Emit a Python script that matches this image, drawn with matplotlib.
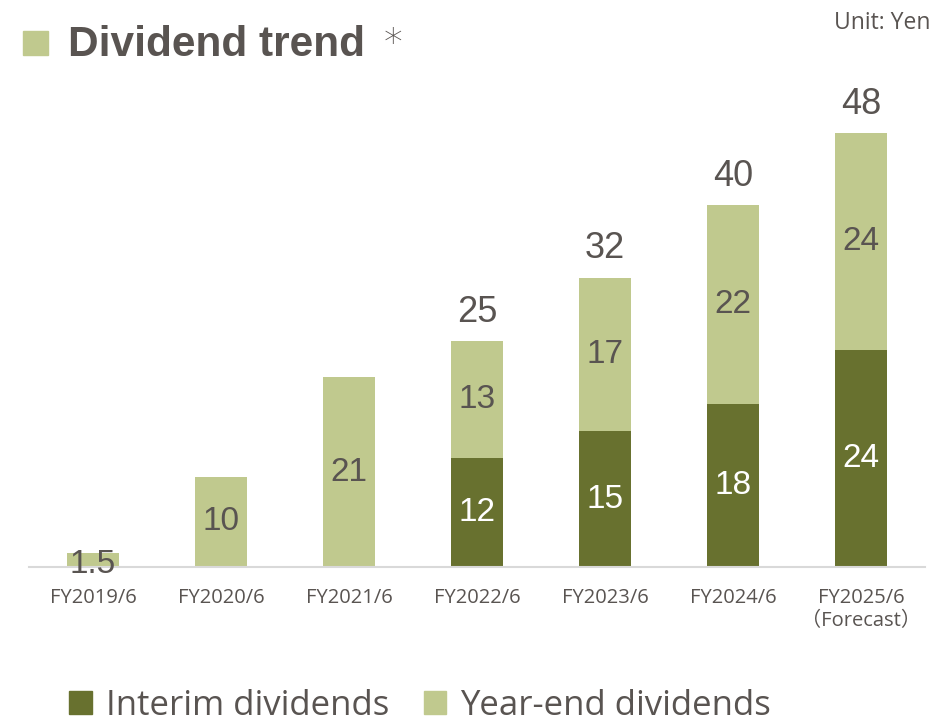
import matplotlib.pyplot as plt
from matplotlib.patches import Patch

categories = ['FY2019/6', 'FY2020/6', 'FY2021/6', 'FY2022/6',
              'FY2023/6', 'FY2024/6', 'FY2025/6\n（Forecast）']
interim = [0, 0, 0, 12, 15, 18, 24]
year_end = [1.5, 10, 21, 13, 17, 22, 24]
totals = [1.5, 10, 21, 25, 32, 40, 48]

DARK = '#68712f'
LIGHT = '#c0c98e'
TEXT = '#595451'


def fmt(v):
    return f'{v:g}'


def main():
    fig = plt.figure(figsize=(9.45, 7.23), dpi=100)
    ax = fig.add_axes([0.0307, 0.2158, 0.948, 0.688])

    x = list(range(len(categories)))
    ax.bar(x, interim, width=0.406, color=DARK)
    ax.bar(x, year_end, width=0.406, bottom=interim, color=LIGHT)

    for i in x:
        if interim[i] > 0:
            ax.text(i, interim[i] / 2, fmt(interim[i]), ha='center', va='center',
                    color='white', fontsize=24, family='Liberation Sans')
            ax.annotate(fmt(totals[i]), (i, totals[i]), xytext=(0, 8),
                        textcoords='offset points', ha='center', va='bottom',
                        color=TEXT, fontsize=26, family='Liberation Sans')
        ax.annotate(fmt(year_end[i]), (i, interim[i] + year_end[i] / 2),
                    xytext=(0, -3 if year_end[i] < 5 else 0), textcoords='offset points',
                    ha='center', va='center', color=TEXT, fontsize=24,
                    family='Liberation Sans')

    ax.set_xlim(-0.5, 6.5)
    ax.set_ylim(0, 55)
    ax.set_yticks([])
    for s in ['top', 'right', 'left']:
        ax.spines[s].set_visible(False)
    ax.spines['bottom'].set_color('#d9d9d9')
    ax.spines['bottom'].set_linewidth(1.5)
    ax.set_xticks(x)
    ax.set_xticklabels(categories, fontsize=14.5, color=TEXT,
                       family=['Open Sans', 'Noto Sans CJK JP'], linespacing=1.25)
    ax.tick_params(axis='x', length=0, pad=15)

    # title
    fig.patches.append(plt.Rectangle((23 / 945, 1 - 55 / 723), 25 / 945, 24 / 723,
                                     transform=fig.transFigure, color=LIGHT))
    fig.text(68 / 945, 1 - 45 / 723, 'Dividend trend', fontsize=30.5, fontweight='bold',
             color=TEXT, family='Liberation Sans', va='center', ha='left')
    fig.text(384 / 945, 1 - 44 / 723, '*', fontsize=27, color=TEXT,
             family='DejaVu Sans', fontweight='light', va='center', ha='left')
    fig.text(931 / 945, 1 - 23 / 723, 'Unit: Yen', fontsize=16.5, color=TEXT,
             family='Open Sans', va='center', ha='right')

    handles = [Patch(color=DARK, label='Interim dividends'),
               Patch(color=LIGHT, label='Year-end dividends')]
    leg = fig.legend(handles=handles, loc='center', bbox_to_anchor=(420 / 945, 1 - 706 / 723),
                     ncol=2, frameon=False, handlelength=0.65,
                     handleheight=0.65, handletextpad=0.4, columnspacing=1.0,
                     prop={'family': 'Open Sans', 'size': 25})
    for t in leg.get_texts():
        t.set_color(TEXT)

    fig.savefig('out.png', dpi=100)


if __name__ == '__main__':
    main()
